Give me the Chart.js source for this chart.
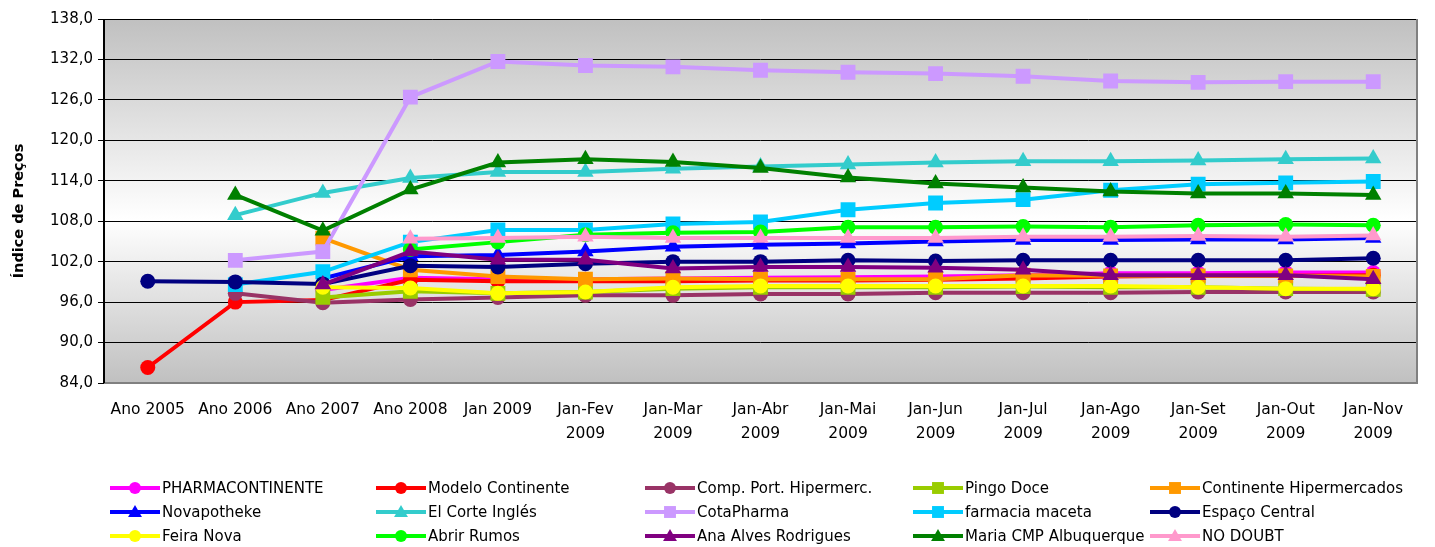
<!DOCTYPE html>
<html lang="pt">
<head>
<meta charset="UTF-8">
<title>Índice de Preços</title>
<style>
    html, body { margin: 0; padding: 0; background: #fff; }
    #wrap { width: 1435px; height: 547px; }
</style>
</head>
<body>
<div id="wrap"><canvas id="grafico" width="1435" height="547"></canvas></div>

<script src="https://cdn.jsdelivr.net/npm/chart.js"></script>
<script>
// categorias do eixo X
const categorias = [
    'Ano 2005', 'Ano 2006', 'Ano 2007', 'Ano 2008', 'Jan 2009',
    ['Jan-Fev', '2009'], ['Jan-Mar', '2009'], ['Jan-Abr', '2009'], ['Jan-Mai', '2009'],
    ['Jan-Jun', '2009'], ['Jan-Jul', '2009'], ['Jan-Ago', '2009'], ['Jan-Set', '2009'],
    ['Jan-Out', '2009'], ['Jan-Nov', '2009']
];

// valores (null = sem dado)
const pharmacontinente = [null, null, 97.8, 99.6, 99.4, 99.4, 99.5, 99.6, 99.7, 99.8, 100.0, 100.3, 100.3, 100.4, 100.4];
const modeloContinente = [86.3, 96.0, 96.3, 99.3, 99.1, 99.1, 99.1, 99.2, 99.2, 99.3, 99.5, 99.8, 99.9, 99.9, 100.0];
const compPort = [null, 97.3, 95.9, 96.4, 96.7, 97.0, 97.0, 97.2, 97.2, 97.4, 97.4, 97.4, 97.5, 97.5, 97.5];
const pingoDoce = [null, null, 96.7, 97.6, 97.3, 97.5, 98.0, 98.2, 98.2, 98.2, 98.3, 98.2, 98.2, 98.0, 97.9];
const continenteHiper = [null, null, 105.5, 100.8, 99.8, 99.4, 99.5, 99.4, 99.4, 99.4, 100.0, 99.9, 99.9, 99.9, 99.8];
const novapotheke = [null, null, 99.5, 102.8, 103.0, 103.5, 104.2, 104.5, 104.7, 105.0, 105.2, 105.2, 105.3, 105.3, 105.5];
const elCorteIngles = [null, 108.9, 112.2, 114.4, 115.3, 115.3, 115.8, 116.1, 116.4, 116.7, 116.9, 116.9, 117.0, 117.2, 117.3];
const cotaPharma = [null, 102.2, 103.5, 126.4, 131.7, 131.1, 130.9, 130.4, 130.1, 129.9, 129.5, 128.8, 128.6, 128.7, 128.7];
const farmaciaMaceta = [null, 98.6, 100.5, 104.9, 106.7, 106.7, 107.6, 107.9, 109.7, 110.7, 111.2, 112.6, 113.5, 113.7, 113.9];
const espacoCentral = [99.1, 99.0, 98.7, 101.4, 101.2, 101.7, 102.0, 102.0, 102.2, 102.1, 102.2, 102.2, 102.2, 102.2, 102.5];
const feiraNova = [null, null, 98.2, 98.1, 97.3, 97.5, 98.2, 98.4, 98.4, 98.4, 98.4, 98.4, 98.2, 98.0, 98.0];
const abrirRumos = [null, null, null, 103.8, 104.9, 106.0, 106.3, 106.4, 107.1, 107.1, 107.2, 107.1, 107.4, 107.5, 107.4];
const anaAlves = [null, null, 98.6, 103.5, 102.3, 102.3, 101.0, 101.2, 101.2, 101.1, 100.8, 100.0, 100.0, 100.0, 99.4];
const mariaCMP = [null, 111.9, 106.6, 112.7, 116.7, 117.2, 116.8, 115.9, 114.5, 113.6, 113.0, 112.4, 112.1, 112.1, 111.9];
const noDoubt = [null, null, null, 105.4, 105.5, 105.7, 105.5, 105.5, 105.5, 105.5, 105.7, 105.7, 105.8, 105.7, 105.9];

// eixo Y
const yMin = 84;
const yMax = 138;
const yPasso = 6;
const tituloY = 'Índice de Preços';

const series = [
    { nome: 'PHARMACONTINENTE', dados: pharmacontinente, cor: '#FF00FF', marca: 'circle' },
    { nome: 'Modelo Continente', dados: modeloContinente, cor: '#FF0000', marca: 'circle' },
    { nome: 'Comp. Port. Hipermerc.', dados: compPort, cor: '#993366', marca: 'circle' },
    { nome: 'Pingo Doce', dados: pingoDoce, cor: '#99CC00', marca: 'rect' },
    { nome: 'Continente Hipermercados', dados: continenteHiper, cor: '#FF9900', marca: 'rect' },
    { nome: 'Novapotheke', dados: novapotheke, cor: '#0000FF', marca: 'triangle' },
    { nome: 'El Corte Inglés', dados: elCorteIngles, cor: '#33CCCC', marca: 'triangle' },
    { nome: 'CotaPharma', dados: cotaPharma, cor: '#CC99FF', marca: 'rect' },
    { nome: 'farmacia maceta', dados: farmaciaMaceta, cor: '#00CCFF', marca: 'rect' },
    { nome: 'Espaço Central', dados: espacoCentral, cor: '#000080', marca: 'circle' },
    { nome: 'Feira Nova', dados: feiraNova, cor: '#FFFF00', marca: 'circle' },
    { nome: 'Abrir Rumos', dados: abrirRumos, cor: '#00FF00', marca: 'circle' },
    { nome: 'Ana Alves Rodrigues', dados: anaAlves, cor: '#800080', marca: 'triangle' },
    { nome: 'Maria CMP Albuquerque', dados: mariaCMP, cor: '#008000', marca: 'triangle' },
    { nome: 'NO DOUBT', dados: noDoubt, cor: '#FF99CC', marca: 'triangle' }
];

const raioMarca = { circle: 7.5, rect: 10.5, triangle: 9.5 };
const fonte = 'DejaVu Sans';

// fundo em degradê da área do gráfico + moldura + título do eixo Y
const fundoPlugin = {
    id: 'fundo',
    beforeDraw(chart) {
        const { ctx, chartArea: a } = chart;
        const g = ctx.createLinearGradient(0, a.top, 0, a.bottom);
        g.addColorStop(0, '#c0c0c0');
        g.addColorStop(0.55, '#ffffff');
        g.addColorStop(1, '#c0c0c0');
        ctx.save();
        ctx.fillStyle = g;
        ctx.fillRect(a.left, a.top, a.right - a.left, a.bottom - a.top);
        ctx.restore();
    },
    afterDraw(chart) {
        const { ctx, chartArea: a } = chart;
        ctx.save();
        ctx.strokeStyle = '#808080';
        ctx.lineWidth = 2;
        ctx.beginPath();
        ctx.moveTo(a.right, a.top);
        ctx.lineTo(a.right, a.bottom);
        ctx.lineTo(a.left, a.bottom);
        ctx.stroke();
        ctx.strokeStyle = '#000';
        ctx.beginPath();
        ctx.moveTo(a.left, a.top);
        ctx.lineTo(a.left, a.bottom);
        ctx.stroke();

        // título do eixo Y (um pouco abaixo do centro, como no original)
        ctx.translate(19, 211);
        ctx.rotate(-Math.PI / 2);
        ctx.font = 'bold 14.5px "' + fonte + '"';
        ctx.fillStyle = '#000';
        ctx.textAlign = 'center';
        ctx.textBaseline = 'middle';
        ctx.fillText(tituloY, 0, 0);
        ctx.restore();
    }
};

function desenhaMarca(ctx, estilo, x, y, r, cor) {
    ctx.fillStyle = cor;
    ctx.beginPath();
    if (estilo === 'circle') {
        ctx.arc(x, y, r, 0, Math.PI * 2);
    } else if (estilo === 'rect') {
        ctx.rect(x - r * 0.7, y - r * 0.7, r * 1.4, r * 1.4);
    } else {
        ctx.moveTo(x, y - r);
        ctx.lineTo(x + r * 0.866, y + r / 2);
        ctx.lineTo(x - r * 0.866, y + r / 2);
        ctx.closePath();
    }
    ctx.fill();
}

// legenda em 5 colunas alinhadas, como no original
const legendaPlugin = {
    id: 'legendaGrade',
    afterDraw(chart) {
        const ctx = chart.ctx;
        const colunas = [110, 376, 645, 913, 1150];
        const linhas = [488, 512, 536];
        ctx.save();
        ctx.font = '15px "' + fonte + '"';
        ctx.textBaseline = 'middle';
        series.forEach((s, i) => {
            const x = colunas[i % 5];
            const y = linhas[Math.floor(i / 5)];
            ctx.strokeStyle = s.cor;
            ctx.lineWidth = 4;
            ctx.beginPath();
            ctx.moveTo(x, y);
            ctx.lineTo(x + 50, y);
            ctx.stroke();
            const r = s.marca === 'circle' ? 6 : (s.marca === 'rect' ? 8.5 : 8);
            desenhaMarca(ctx, s.marca, x + 25, y + (s.marca === 'triangle' ? 1 : 0), r, s.cor);
            ctx.fillStyle = '#000';
            ctx.fillText(s.nome, x + 52, y + 1);
        });
        ctx.restore();
    }
};

const ctx = document.getElementById('grafico').getContext('2d');
new Chart(ctx, {
    type: 'line',
    data: {
        labels: categorias,
        datasets: series.map((s, i) => ({
            label: s.nome,
            data: s.dados,
            borderColor: s.cor,
            backgroundColor: s.cor,
            borderWidth: 4,
            pointStyle: s.marca,
            pointRadius: raioMarca[s.marca],
            pointBackgroundColor: s.cor,
            pointBorderColor: s.cor,
            pointBorderWidth: 0,
            tension: 0,
            fill: false,
            order: series.length - 1 - i
        }))
    },
    options: {
        responsive: false,
        animation: false,
        events: [],
        layout: { padding: { top: 19, right: 18, left: 0, bottom: 0 } },
        plugins: {
            legend: { display: false },
            tooltip: { enabled: false }
        },
        scales: {
            x: {
                offset: true,
                grid: { display: false, drawTicks: false },
                border: { display: false },
                ticks: {
                    color: '#000',
                    padding: 15,
                    maxRotation: 0,
                    autoSkip: false,
                    font: { family: fonte, size: 15.5, lineHeight: 1.55 }
                },
                afterFit(scale) { scale.height = 164; }
            },
            y: {
                min: yMin,
                max: yMax,
                grid: { color: '#000', lineWidth: 1, drawTicks: true, tickLength: 6 },
                border: { display: false },
                ticks: {
                    stepSize: yPasso,
                    color: '#000',
                    padding: 5,
                    font: { family: fonte, size: 15 },
                    callback: v => v.toFixed(1).replace('.', ',')
                },
                afterFit(scale) { scale.width = 104; }
            }
        }
    },
    plugins: [fundoPlugin, legendaPlugin]
});
</script>
</body>
</html>
